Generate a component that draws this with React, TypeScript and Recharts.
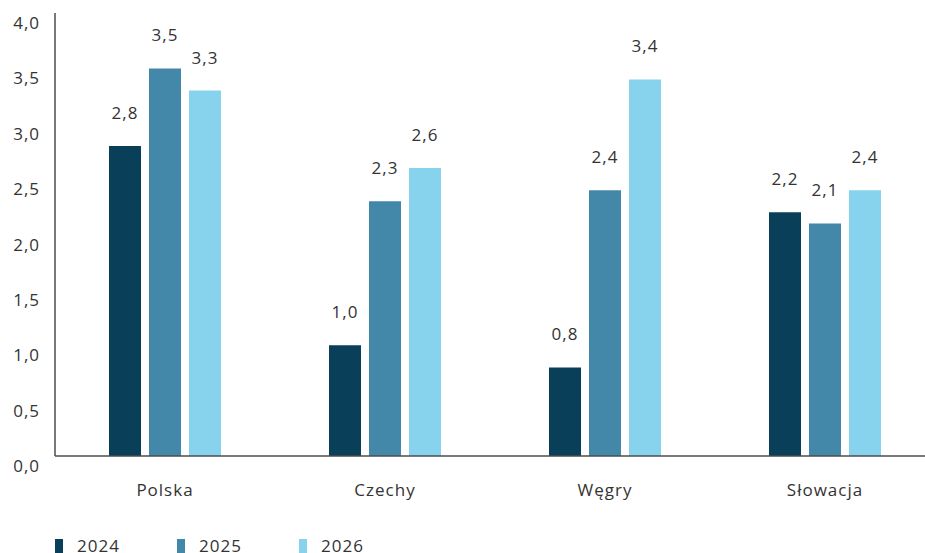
import { BarChart, Bar, XAxis, YAxis, Legend, LabelList } from "recharts";

const countries = ["Polska", "Czechy", "Węgry", "Słowacja"];
const v2024 = [2.8, 1.0, 0.8, 2.2];
const v2025 = [3.5, 2.3, 2.4, 2.1];
const v2026 = [3.3, 2.6, 3.4, 2.4];
const yTicks = [0, 0.5, 1, 1.5, 2, 2.5, 3, 3.5, 4];

const series = [
  { key: "y2024", name: "2024", color: "#0A3F59" },
  { key: "y2025", name: "2025", color: "#4388A8" },
  { key: "y2026", name: "2026", color: "#87D3EE" },
];

const data = countries.map((c, i) => ({
  name: c,
  y2024: v2024[i],
  y2025: v2025[i],
  y2026: v2026[i],
}));

const TEXT = "#333333";
const AXIS = "#4d4d4d";
const fmt = (v: number) => v.toFixed(1).replace(".", ",");

function YTick({ x, y, payload }: any) {
  return (
    <text x={x} y={y + 10} dy="0.355em" textAnchor="end" fill={TEXT} fontSize={17} letterSpacing={1}>
      {fmt(payload.value)}
    </text>
  );
}

function LegendBox() {
  return (
    <div style={{ display: "flex", height: 24, paddingLeft: 55 }}>
      {series.map((s) => (
        <div key={s.key} style={{ display: "flex", width: 122, alignItems: "flex-start" }}>
          <span style={{ display: "inline-block", width: 8, height: 16, marginTop: 4, background: s.color }} />
          <span style={{ marginLeft: 14, fontSize: 17, lineHeight: "24px", color: TEXT, letterSpacing: 1, marginTop: -1 }}>
            {s.name}
          </span>
        </div>
      ))}
    </div>
  );
}

export default function App() {
  return (
    <div style={{ position: "absolute", left: 0, top: 0, width: 925, height: 553, overflow: "hidden", background: "#fff", fontFamily: "'Open Sans', sans-serif" }}>
      <BarChart width={935} height={559} data={data} margin={{ top: 13, right: 0, bottom: 0, left: 0 }}
        barSize={32} barGap={8}>
        <YAxis domain={[0, 4]} ticks={yTicks} width={55} tick={<YTick />} tickLine={false} tickSize={0} tickMargin={15}
          axisLine={{ stroke: AXIS, strokeWidth: 1.5 }} interval={0} />
        <XAxis dataKey="name" height={79} tickLine={false} tickSize={0} tickMargin={28}
          tick={{ fontSize: 17, fill: TEXT, letterSpacing: 1 }} axisLine={{ stroke: AXIS, strokeWidth: 1.5 }} />
        <Legend verticalAlign="bottom" content={<LegendBox />} wrapperStyle={{ left: 0, width: 935 }} />
        {series.map((s) => (
          <Bar key={s.key} dataKey={s.key} name={s.name} fill={s.color} isAnimationActive={false}>
            <LabelList dataKey={s.key} position="top" offset={27} formatter={(v: any) => fmt(Number(v))}
              style={{ fontSize: 17, fill: TEXT, letterSpacing: 1 }} />
          </Bar>
        ))}
      </BarChart>
    </div>
  );
}
